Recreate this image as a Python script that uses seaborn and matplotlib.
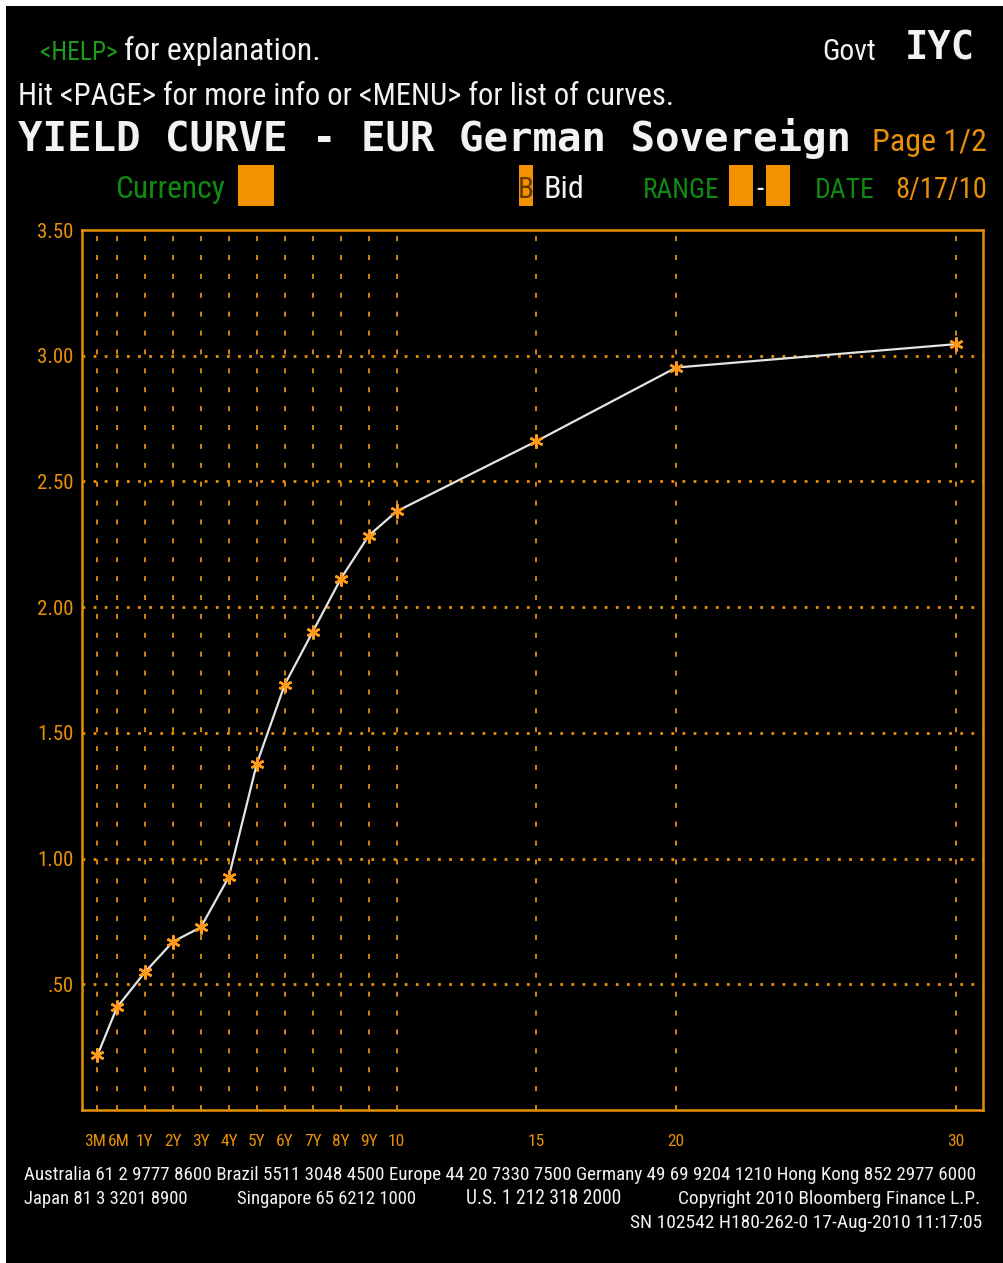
import numpy as np
import matplotlib
matplotlib.use("Agg")
import matplotlib.pyplot as plt
import matplotlib.transforms as mtransforms
import seaborn as sns
from matplotlib import font_manager
from matplotlib.patches import Rectangle

# ---- data (EUR German Sovereign, 8/17/10)
tenors = ["3M", "6M", "1Y", "2Y", "3Y", "4Y", "5Y", "6Y", "7Y", "8Y", "9Y", "10", "15", "20", "30"]
tenor_pos = [-0.7, 0.0, 1, 2, 3, 4, 5, 6, 7, 8, 9, 10, 15, 20, 30]
bid_yield = [0.217, 0.408, 0.548, 0.669, 0.727, 0.927, 1.377, 1.692, 1.902,
             2.112, 2.284, 2.381, 2.66, 2.953, 3.046]
y_ticks = [0.5, 1.0, 1.5, 2.0, 2.5, 3.0, 3.5]
y_tick_labels = [".50", "1.00", "1.50", "2.00", "2.50", "3.00", "3.50"]

footer_1 = ("Australia 61 2 9777 8600 Brazil 5511 3048 4500 Europe 44 20 7330 7500 "
            "Germany 49 69 9204 1210 Hong Kong 852 2977 6000")
footer_2 = ["Japan 81 3 3201 8900", "Singapore 65 6212 1000", "U.S. 1 212 318 2000",
            "Copyright 2010 Bloomberg Finance L.P."]
footer_3 = "SN 102542 H180-262-0 17-Aug-2010 11:17:05"

ORANGE = "#E8900A"
BOX = "#F39200"
GREEN = "#1C9E1C"
DKGREEN = "#108A10"
WHITE = "#F2F2F2"

sns.set_theme(style="dark")


def pick_font(names):
    for n in names:
        try:
            font_manager.findfont(n, fallback_to_default=False)
            return n
        except Exception:
            pass
    return "DejaVu Sans"


NARROW = pick_font(["Roboto Condensed", "Liberation Sans Narrow", "DejaVu Sans"])
MONO = pick_font(["DejaVu Sans Mono", "Liberation Mono"])
plt.rcParams["font.family"] = [NARROW, "DejaVu Sans"]
plt.rcParams["lines.scale_dashes"] = False

W, H = 1004, 1263
fig = plt.figure(figsize=(W / 100, H / 100), dpi=100, facecolor="white")
fig.patches.append(Rectangle((6 / W, 0), 1 - 6 / W, 1 - 6 / H, transform=fig.transFigure,
                             facecolor="black", edgecolor="none", zorder=-10))

ax = fig.add_axes([82 / W, 1 - 1110 / H, 901 / W, 880 / H])
ax.set_facecolor("black")

sns.lineplot(x=tenor_pos, y=bid_yield, ax=ax, color="#E4E4E4", linewidth=1.6,
             marker=(6, 2, 0), markersize=10, markeredgecolor="#FF9A1A",
             markerfacecolor="#FF9A1A", markeredgewidth=1.8, zorder=5)

ax.set_xlim(-1.25, 30.97)
ax.set_ylim(0, 3.5)
ax.set_xticks(tenor_pos)
ax.set_xticklabels(tenors)
ax.set_yticks(y_ticks)
ax.set_yticklabels(y_tick_labels)
ax.tick_params(axis="both", length=0, colors=ORANGE, labelsize=15)
ax.tick_params(axis="x", pad=17, labelsize=12.5)
ax.tick_params(axis="y", pad=6)
ax.set_xlabel("")
ax.set_ylabel("")

# 3M and 6M sit very close together: nudge them apart a little, as on the screen
xl = ax.get_xticklabels()
for lab, dx in [(xl[0], -2.5), (xl[1], 2.0)]:
    lab.set_transform(lab.get_transform()
                      + mtransforms.ScaledTranslation(dx / 100, 0, fig.dpi_scale_trans))

# dotted horizontal / dashed vertical grid like the terminal screen
for yv in y_ticks[:-1]:
    ax.axhline(yv, color=ORANGE, linewidth=2.0, linestyle=(0, (2.0, 6.0)), zorder=1)
for xv in tenor_pos:
    ax.axvline(xv, color=ORANGE, linewidth=1.3, linestyle=(0, (3.6, 10)), zorder=1)

for sp in ax.spines.values():
    sp.set_visible(True)
    sp.set_color(ORANGE)
    sp.set_linewidth(1.8)

renderer = fig.canvas.get_renderer()


def put(x0, base, s, color, size, x1=None, ha="left", **kw):
    t = fig.text(x0 / W, 1 - base / H, s, color=color, fontsize=size, ha=ha,
                 va="baseline", **kw)
    if x1 is not None:
        w = t.get_window_extent(renderer).width
        t.set_fontsize(size * abs(x1 - x0) / w)
    return t


def put_cap(x0, x1, base, s, color, size, ha="left"):
    # fit to the target width but never grow beyond `size`
    t = put(x0, base, s, color, size, ha=ha)
    w = t.get_window_extent(renderer).width
    t.set_fontsize(min(size, size * abs(x1 - x0) / w))
    return t


# header
HS = 23
put_cap(40, 118, 60, "<HELP>", GREEN, HS)
put_cap(124, 322, 60, "for explanation.", WHITE, HS)
put_cap(876, 822, 60, "Govt", WHITE, HS, ha="right")
put(905, 60, "IYC", WHITE, 28, x1=975, family=MONO, fontweight="bold")
put(18, 105, "Hit <PAGE> for more info or <MENU> for list of curves.", WHITE, HS, x1=678)
put(18, 151, "YIELD CURVE - EUR German Sovereign", WHITE, 28, x1=850,
    family=MONO, fontweight="bold")
put_cap(987, 870, 151, "Page 1/2", ORANGE, HS, ha="right")
put_cap(115, 226, 198, "Currency", DKGREEN, HS)
put_cap(544, 590, 198, "Bid", WHITE, HS)
put_cap(643, 720, 198, "RANGE", DKGREEN, HS)
put_cap(815, 875, 198, "DATE", DKGREEN, HS)
put_cap(987, 895, 198, "8/17/10", ORANGE, HS, ha="right")

for bx0, bx1 in [(238, 274), (519, 533), (729, 753), (766, 790)]:
    fig.patches.append(Rectangle((bx0 / W, 1 - 206 / H), (bx1 - bx0) / W, 41 / H,
                                 transform=fig.transFigure, facecolor=BOX,
                                 edgecolor="none"))
put(526, 198, "B", "#6A3A00", 21, ha="center")
put(759.5, 198, "-", WHITE, 21, ha="center")

# footer
put(24, 1180, footer_1, WHITE, 14, x1=982)
for x0, x1, s in zip([24, 237, 466, 678], [188, 417, 622, 982], footer_2):
    put(x0, 1204, s, WHITE, 14, x1=x1)
put(982, 1228, footer_3, WHITE, 14, ha="right")

fig.savefig("out.png", dpi=100, facecolor=fig.get_facecolor())
